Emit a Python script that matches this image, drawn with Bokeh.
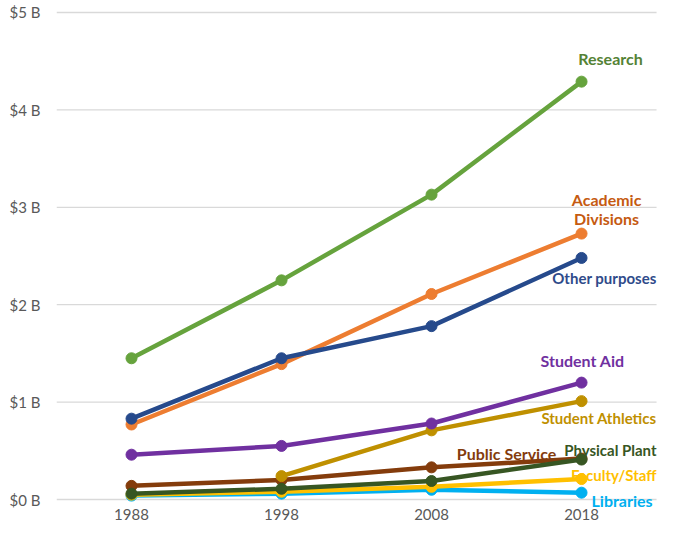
import numpy as np
from bokeh.plotting import figure
from bokeh.models import FixedTicker, Range1d, Label
from bokeh.embed import file_html
from bokeh.resources import INLINE

years = [1988, 1998, 2008, 2018]
y_ticks = [0, 1, 2, 3, 4, 5]
y_tick_labels = ["$0 B", "$1 B", "$2 B", "$3 B", "$4 B", "$5 B"]

# Expenditures in $ billions
research = [1.45, 2.25, 3.13, 4.29]
academic_divisions = [0.77, 1.39, 2.11, 2.73]
libraries = [0.04, 0.06, 0.10, 0.07]
faculty_staff = [0.05, 0.08, 0.13, 0.21]
public_service = [0.14, 0.20, 0.33, 0.42]
student_athletics = [np.nan, 0.24, 0.71, 1.01]
student_aid = [0.46, 0.55, 0.78, 1.20]
other_purposes = [0.83, 1.45, 1.78, 2.48]
physical_plant = [0.06, 0.11, 0.19, 0.41]

series = [
    ("Research", research, "#66A33D", "#548235"),
    ("Academic Divisions", academic_divisions, "#ED7D31", "#C55A11"),
    ("Libraries", libraries, "#00B0F0", "#00B0F0"),
    ("Faculty/Staff", faculty_staff, "#FFC000", "#FFC000"),
    ("Public Service", public_service, "#843C0C", "#843C0C"),
    ("Student Athletics", student_athletics, "#BF9000", "#BF9000"),
    ("Student Aid", student_aid, "#7030A0", "#7030A0"),
    ("Other purposes", other_purposes, "#264A8C", "#2F4B8A"),
    ("Physical Plant", physical_plant, "#375623", "#375623"),
]

# direct label placement: (x, y, text, align, font size)
label_pos = {
    "Research": [(2019.93, 4.53, "Research", "center", "16px")],
    "Academic Divisions": [(2019.67, 3.08, "Academic", "center", "16px"),
                           (2019.67, 2.88, "Divisions", "center", "16px")],
    "Other purposes": [(2023.0, 2.27, "Other purposes", "right", "15px")],
    "Student Aid": [(2018.07, 1.43, "Student Aid", "center", "16px")],
    "Student Athletics": [(2023.0, 0.84, "Student Athletics", "right", "15px")],
    "Public Service": [(2013.0, 0.47, "Public Service", "center", "16px")],
    "Physical Plant": [(2023.0, 0.51, "Physical Plant", "right", "15px")],
    "Faculty/Staff": [(2023.0, 0.25, "Faculty/Staff", "right", "15px")],
    "Libraries": [(2020.7, -0.01, "Libraries", "center", "16px")],
}

x_start, x_end = 1983, 2023.13
grid_end = 2023
p = figure(width=658, height=525, output_backend="svg", toolbar_location=None,
           x_range=Range1d(x_start, x_end), y_range=Range1d(-0.0924, 5.0513),
           min_border_left=56, min_border_right=0, min_border_top=7,
           min_border_bottom=17)
p.outline_line_color = None
p.background_fill_color = "white"
p.border_fill_color = "white"

p.xgrid.grid_line_color = None
p.ygrid.grid_line_color = None
# horizontal gridlines, spanning the category band only
p.segment(x0=[x_start] * len(y_ticks), x1=[grid_end] * len(y_ticks),
          y0=y_ticks, y1=y_ticks, line_color="#D9D9D9", line_width=1.3)

p.yaxis.ticker = FixedTicker(ticks=y_ticks)
p.yaxis.major_label_overrides = {t: l for t, l in zip(y_ticks, y_tick_labels)}
p.xaxis.ticker = FixedTicker(ticks=years)
for ax in (p.xaxis, p.yaxis):
    ax.axis_line_color = None
    ax.major_tick_line_color = None
    ax.minor_tick_line_color = None
    ax.major_tick_in = 0
    ax.major_tick_out = 0
    ax.major_label_text_font = "Lato"
    ax.major_label_text_font_size = "15px"
    ax.major_label_text_color = "#595959"
p.yaxis.major_label_standoff = 16
p.xaxis.major_label_standoff = 0

for name, vals, color, lcolor in series:
    p.line(years, vals, line_color=color, line_width=4.5)
    p.scatter(years, vals, size=11, fill_color=color, line_color=color)

for name, vals, color, lcolor in series:
    for (lx, ly, txt, al, fs) in label_pos[name]:
        p.add_layout(Label(x=lx, y=ly, text=txt, text_color=lcolor,
                           text_font="Lato", text_font_style="bold",
                           text_font_size=fs, text_align=al,
                           text_baseline="middle"))

open("out.html", "w").write(file_html(p, INLINE))
